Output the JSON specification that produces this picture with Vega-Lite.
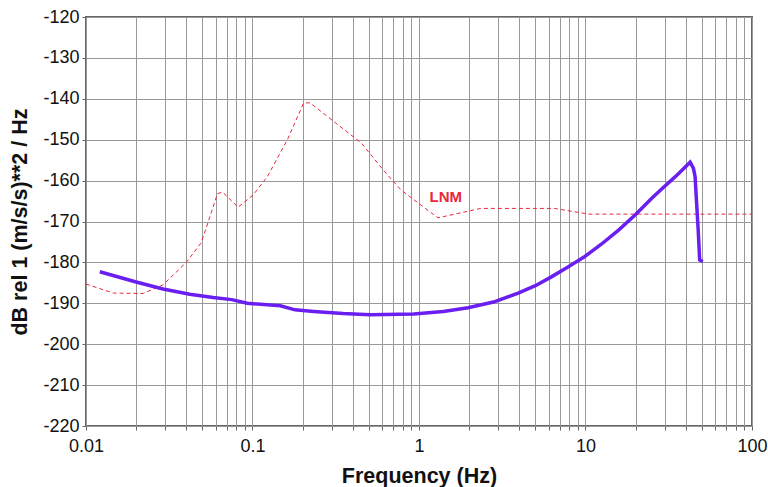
{
  "$schema": "https://vega.github.io/schema/vega-lite/v6.json",
  "autosize": {"type": "none"},
  "width": 666,
  "height": 409,
  "padding": {"left": 86, "top": 17, "right": 16, "bottom": 61},
  "background": "white",
  "config": {
    "view": {"stroke": "#666666", "strokeWidth": 2},
    "font": "Liberation Sans",
    "axis": {
      "labelFont": "Liberation Sans", "labelFontSize": 18, "labelColor": "#111111",
      "titleFont": "Liberation Sans", "titleFontSize": 21.5, "titleFontWeight": "bold", "titleColor": "#111111",
      "gridColor": "#999999", "gridOpacity": 1, "gridWidth": 1,
      "domain": false, "tickColor": "#666666", "tickSize": 4
    }
  },
  "datasets": {
    "lnm": [
      {"f": 0.01, "db": -185.3},
      {"f": 0.0146, "db": -187.5},
      {"f": 0.022, "db": -187.6},
      {"f": 0.029, "db": -185.5},
      {"f": 0.04, "db": -180.0},
      {"f": 0.049, "db": -175.3},
      {"f": 0.053, "db": -171.3},
      {"f": 0.0616, "db": -163.2},
      {"f": 0.066, "db": -162.8},
      {"f": 0.082, "db": -166.5},
      {"f": 0.101, "db": -163.5},
      {"f": 0.123, "db": -159.0},
      {"f": 0.162, "db": -150.0},
      {"f": 0.203, "db": -141.0},
      {"f": 0.222, "db": -141.0},
      {"f": 0.3, "db": -145.2},
      {"f": 0.45, "db": -150.8},
      {"f": 0.61, "db": -157.4},
      {"f": 0.78, "db": -162.3},
      {"f": 0.99, "db": -165.5},
      {"f": 1.3, "db": -169.1},
      {"f": 2.35, "db": -166.8},
      {"f": 6.5, "db": -166.8},
      {"f": 10.5, "db": -168.2},
      {"f": 100, "db": -168.2}
    ],
    "signal": [
      {"f": 0.0121, "db": -182.3},
      {"f": 0.02, "db": -184.8},
      {"f": 0.029, "db": -186.5},
      {"f": 0.042, "db": -187.8},
      {"f": 0.058, "db": -188.6},
      {"f": 0.075, "db": -189.1},
      {"f": 0.093, "db": -190.0},
      {"f": 0.147, "db": -190.6},
      {"f": 0.18, "db": -191.6},
      {"f": 0.233, "db": -192.0},
      {"f": 0.35, "db": -192.5},
      {"f": 0.51, "db": -192.8},
      {"f": 0.93, "db": -192.6},
      {"f": 1.4, "db": -192.0},
      {"f": 1.97, "db": -191.1},
      {"f": 2.8, "db": -189.7},
      {"f": 3.94, "db": -187.5},
      {"f": 5.0, "db": -185.7},
      {"f": 6.2, "db": -183.6},
      {"f": 7.8, "db": -181.2},
      {"f": 9.8, "db": -178.7},
      {"f": 12.5, "db": -175.5},
      {"f": 15.8, "db": -172.1},
      {"f": 20, "db": -168.3},
      {"f": 25, "db": -164.3},
      {"f": 30, "db": -161.3},
      {"f": 34.5, "db": -159.1},
      {"f": 38.5, "db": -157.2},
      {"f": 42.5, "db": -155.5},
      {"f": 44.5, "db": -157.0},
      {"f": 45.5, "db": -159.0},
      {"f": 47.5, "db": -172.0},
      {"f": 48.5, "db": -179.4},
      {"f": 50.6, "db": -179.8}
    ],
    "label": [{"f": 1.45, "db": -164, "text": "LNM"}]
  },
  "layer": [
    {
      "data": {"name": "lnm"},
      "mark": {"type": "line", "color": "#e8283c", "strokeWidth": 1, "strokeDash": [4, 3], "clip": true},
      "encoding": {
        "x": {
          "field": "f", "type": "quantitative",
          "scale": {"type": "log", "domain": [0.01, 100], "nice": false},
          "axis": {
            "title": "Frequency (Hz)", "titlePadding": 10,
            "values": [0.01,0.02,0.03,0.04,0.05,0.06,0.07,0.08,0.09,0.1,0.2,0.3,0.4,0.5,0.6,0.7,0.8,0.9,1,2,3,4,5,6,7,8,9,10,20,30,40,50,60,70,80,90,100],
            "labelExpr": "datum.value == 0.01 ? '0.01' : datum.value == 0.1 ? '0.1' : datum.value == 1 ? '1' : datum.value == 10 ? '10' : datum.value == 100 ? '100' : ''",
            "labelFlush": false, "labelPadding": 7
          }
        },
        "y": {
          "field": "db", "type": "quantitative",
          "scale": {"domain": [-220, -120], "nice": false, "zero": false},
          "axis": {
            "title": "dB rel 1 (m/s/s)**2 / Hz", "titlePadding": 11,
            "values": [-220,-210,-200,-190,-180,-170,-160,-150,-140,-130,-120],
            "labelExpr": "'-' + abs(datum.value)",
            "labelPadding": 3
          }
        }
      }
    },
    {
      "data": {"name": "signal"},
      "mark": {"type": "line", "color": "#6a1ff0", "strokeWidth": 3.5, "clip": true},
      "encoding": {
        "x": {"field": "f", "type": "quantitative"},
        "y": {"field": "db", "type": "quantitative"}
      }
    },
    {
      "data": {"name": "label"},
      "mark": {"type": "text", "color": "#e8283c", "fontWeight": "bold", "fontSize": 15, "font": "Liberation Sans"},
      "encoding": {
        "x": {"field": "f", "type": "quantitative"},
        "y": {"field": "db", "type": "quantitative"},
        "text": {"field": "text"}
      }
    }
  ]
}
